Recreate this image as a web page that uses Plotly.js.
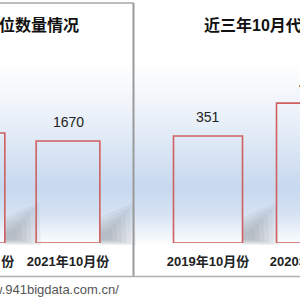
<!DOCTYPE html>
<html><head><meta charset="utf-8">
<script src="https://cdn.plot.ly/plotly-3.0.1.min.js"></script>
<style>
html,body{margin:0;padding:0;width:300px;height:300px;overflow:hidden;}
body{background:linear-gradient(to bottom,#ffffff 0px,#ffffff 60px,#eef3fa 110px,#d5e2f3 160px,#c7d9ef 188px,#d3e1f2 212px,#ffffff 246px,#ffffff 300px);}
#chart{position:absolute;left:-100px;top:0;width:500px;height:300px;}
</style></head><body><div id="chart"></div>
<script>
// ---- data ----
const leftCategories = ["2020年10月份", "2021年10月份"];
const leftValues = [1800, 1670];
const rightCategories = ["2019年10月份", "2020年10月份"];
const rightValues = [351, 459];
const leftTitle = "位数量情况";
const rightTitle = "近三年10月代";
const sourceText = "w.941bigdata.com.cn/";

// ---- layout helpers (page pixels -> paper) ----
const OFF = 100, W = 500, PH = 243;
const px = p => (p + OFF) / W;
const py = p => (PH - p) / PH;

const fam = "'Liberation Sans', Arial, 'Noto Sans CJK SC', sans-serif";
const barLine = {color: 'rgb(206,96,96)', width: 1.6};
const barFill = 'rgba(255,255,255,0)';

const traces = [
  {type: 'bar', x: leftCategories, y: leftValues, xaxis: 'x', yaxis: 'y',
   marker: {color: barFill, line: barLine}, hoverinfo: 'skip'},
  {type: 'bar', x: rightCategories, y: rightValues, xaxis: 'x2', yaxis: 'y2',
   marker: {color: barFill, line: barLine}, hoverinfo: 'skip'}
];

// axis geometry: left categories spaced 95px, right 103px
const L = {center1: 68, step: 95, from: -100, to: 133};
const R = {center0: 208, step: 103, from: 137, to: 400};
const leftRange = [1 + (L.from - L.center1) / L.step, 1 + (L.to - L.center1) / L.step];
const rightRange = [(R.from - R.center0) / R.step, (R.to - R.center0) / R.step];
const leftYMax = leftValues[1] * PH / 102;
const rightYMax = rightValues[0] * PH / 107;

const tickFont = {family: fam, size: 13, color: '#222', weight: 'bold'};
const xCommon = {type: 'category', showgrid: false, zeroline: false, showline: false,
  ticks: 'outside', ticklen: 6, tickcolor: 'rgba(0,0,0,0)', tickfont: tickFont, fixedrange: true};
const yCommon = {showgrid: false, zeroline: false, showline: false, showticklabels: false, ticks: '', fixedrange: true};

const annotations = [];
leftCategories.forEach((c, i) => annotations.push({xref: 'x', yref: 'y', x: c, y: leftValues[i],
  text: String(leftValues[i]), showarrow: false, yanchor: 'bottom', yshift: 9,
  font: {family: fam, size: 14, color: '#222'}}));
rightCategories.forEach((c, i) => annotations.push({xref: 'x2', yref: 'y2', x: c, y: rightValues[i],
  text: String(rightValues[i]), showarrow: false, yanchor: 'bottom', yshift: 9,
  font: {family: fam, size: 14, color: '#222'}}));
annotations.push({xref: 'paper', yref: 'paper', x: px(81), y: py(25), xanchor: 'right', yanchor: 'middle',
  text: leftTitle, showarrow: false, font: {family: fam, size: 16, color: '#111', weight: 'bold'}});
annotations.push({xref: 'paper', yref: 'paper', x: px(202), y: py(25), xanchor: 'left', yanchor: 'middle',
  text: rightTitle, showarrow: false, font: {family: fam, size: 16, color: '#111', weight: 'bold'}});
annotations.push({xref: 'paper', yref: 'paper', x: px(121), y: py(289), xanchor: 'right', yanchor: 'middle',
  text: sourceText, showarrow: false, font: {family: fam, size: 13, color: '#555'}});

// decorative shapes: frame lines and soft bar shadows
const shapes = [
  {type: 'line', xref: 'paper', yref: 'paper', x0: px(0), x1: px(133.5), y0: py(3), y1: py(3),
   line: {color: '#a8a8a8', width: 1.5}},
  {type: 'line', xref: 'paper', yref: 'paper', x0: px(133.5), x1: px(133.5), y0: py(3), y1: py(277),
   line: {color: '#9a9a9a', width: 2}},
  {type: 'line', xref: 'paper', yref: 'paper', x0: px(-100), x1: px(400), y0: py(276.5), y1: py(276.5),
   line: {color: '#b0b0b0', width: 1.5}}
];
function shadow(rightPx) {
  const mk = (pts, op) => ({type: 'path', xref: 'paper', yref: 'paper', layer: 'below',
    path: 'M' + pts.map(p => px(rightPx + p[0]) + ',' + py(p[1])).join('L') + 'Z',
    fillcolor: 'rgba(110,118,132,' + op + ')', line: {width: 0}});
  for (let k = 0; k < 6; k++) {
    const s = 1 - k * 0.13;
    shapes.push(mk([[0, 245 - k], [0, 243 - 26 * s], [34 * s, 243 - 40 * s], [36 * s, 245 - k]], 0.09));
  }
}
leftCategories.forEach((c, i) => shadow(L.center1 + (i - 1) * L.step + 32));
rightCategories.forEach((c, i) => shadow(R.center0 + i * R.step + 34.5));

const layout = {
  width: W, height: 300, margin: {l: 0, r: 0, t: 0, b: 57},
  paper_bgcolor: 'rgba(0,0,0,0)', plot_bgcolor: 'rgba(0,0,0,0)',
  showlegend: false, bargap: 0.33,
  xaxis: Object.assign({}, xCommon, {domain: [px(-100), px(133)], range: leftRange, anchor: 'y'}),
  yaxis: Object.assign({}, yCommon, {domain: [0, 1], range: [0, leftYMax], anchor: 'x'}),
  xaxis2: Object.assign({}, xCommon, {domain: [px(137), px(400)], range: rightRange, anchor: 'y2'}),
  yaxis2: Object.assign({}, yCommon, {domain: [0, 1], range: [0, rightYMax], anchor: 'x2'}),
  annotations: annotations, shapes: shapes
};
Plotly.newPlot('chart', traces, layout, {staticPlot: true, displayModeBar: false});
</script></body></html>
